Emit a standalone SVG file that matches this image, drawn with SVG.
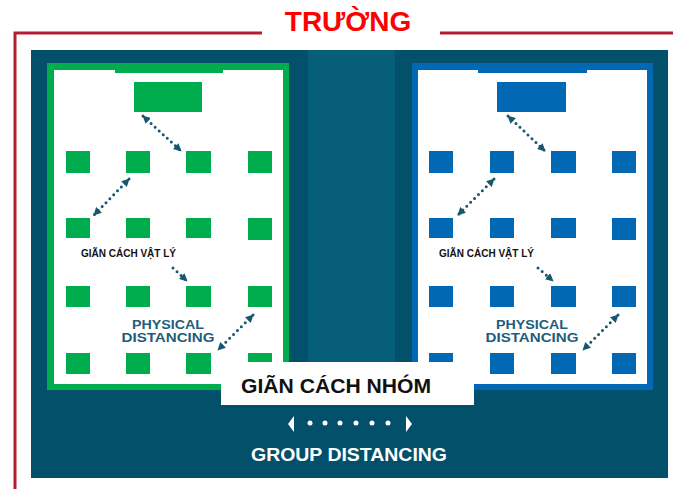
<svg xmlns="http://www.w3.org/2000/svg" width="673" height="489" viewBox="0 0 673 489">
<style>
.g{fill:#00ad4e}
.b{fill:#0168b3}
.lbl{font-family:"Liberation Sans",Arial,sans-serif;font-weight:bold;fill:#111}
.pd{font-family:"Liberation Sans",Arial,sans-serif;font-weight:bold;fill:#1f5d7c;font-size:12px;text-anchor:middle}
.arr{fill:none;stroke:#17566f;stroke-width:3;stroke-linecap:round;stroke-dasharray:0 5.5}
</style>
<defs>
<marker id="ah" viewBox="0 0 10 10" refX="9" refY="5" markerWidth="8" markerHeight="8" markerUnits="userSpaceOnUse" orient="auto-start-reverse">
<path d="M0,0 L10,5 L0,10 z" fill="#17566f"/>
</marker>
</defs>
<rect width="673" height="489" fill="#fff"/>
<g id="frame">
<path d="M262,33 H15 V489" fill="none" stroke="#b41c32" stroke-width="3"/>
<path d="M440,33 H673" fill="none" stroke="#b41c32" stroke-width="3"/>
<text x="348" y="31" text-anchor="middle" font-family="'Liberation Sans',Arial,sans-serif" font-weight="bold" font-size="28" fill="#ff0000">TRƯỜNG</text>
</g>
<g id="background">
<rect x="31" y="50" width="637" height="428" fill="#03506b"/>
<rect x="308" y="50" width="87" height="340" fill="#075e78"/>
</g>
<g id="panel-left">
<rect x="47" y="63" width="242" height="327" class="g"/>
<rect x="54" y="70" width="229" height="314" fill="#fff"/>
<rect x="115" y="70" width="108" height="3" class="g"/>
<rect x="134" y="82" width="68" height="30" class="g"/>
<g class="g">
<rect x="66" y="151" width="24" height="22"/><rect x="126" y="151" width="24" height="22"/><rect x="186" y="151" width="25" height="22"/><rect x="248" y="151" width="24" height="22"/>
<rect x="66" y="218" width="24" height="20"/><rect x="126" y="218" width="24" height="20"/><rect x="186" y="218" width="25" height="20"/><rect x="248" y="218" width="24" height="22"/>
<rect x="66" y="286" width="24" height="21"/><rect x="126" y="286" width="24" height="21"/><rect x="186" y="286" width="25" height="21"/><rect x="248" y="286" width="24" height="21"/>
<rect x="66" y="353" width="24" height="21"/><rect x="126" y="353" width="24" height="21"/><rect x="186" y="353" width="25" height="21"/><rect x="248" y="353" width="24" height="21"/>
</g>
<text x="81" y="257" class="lbl" font-size="10">GIÃN CÁCH VẬT LÝ</text>
<text x="168" y="328.5" class="pd" textLength="72" lengthAdjust="spacingAndGlyphs">PHYSICAL</text>
<text x="168" y="342" class="pd" textLength="93" lengthAdjust="spacingAndGlyphs">DISTANCING</text>
</g>
<g id="panel-right">
<rect x="412" y="63" width="241" height="327" class="b"/>
<rect x="418" y="70" width="229" height="314" fill="#fff"/>
<rect x="478" y="70" width="109" height="3" class="b"/>
<rect x="497" y="82" width="69" height="30" class="b"/>
<g class="b">
<rect x="429" y="151" width="24" height="22"/><rect x="490" y="151" width="24" height="22"/><rect x="551" y="151" width="25" height="22"/><rect x="612" y="151" width="24" height="22"/>
<rect x="429" y="218" width="24" height="20"/><rect x="490" y="218" width="24" height="20"/><rect x="551" y="218" width="25" height="20"/><rect x="612" y="218" width="24" height="22"/>
<rect x="429" y="286" width="24" height="21"/><rect x="490" y="286" width="24" height="21"/><rect x="551" y="286" width="25" height="21"/><rect x="612" y="286" width="24" height="21"/>
<rect x="429" y="353" width="24" height="21"/><rect x="490" y="353" width="24" height="21"/><rect x="551" y="353" width="25" height="21"/><rect x="612" y="353" width="24" height="21"/>
</g>
<text x="439" y="257" class="lbl" font-size="10">GIÃN CÁCH VẬT LÝ</text>
<text x="532" y="328.5" class="pd" textLength="72" lengthAdjust="spacingAndGlyphs">PHYSICAL</text>
<text x="532" y="342" class="pd" textLength="93" lengthAdjust="spacingAndGlyphs">DISTANCING</text>
</g>
<g id="connectors">
<path class="arr" d="M143,116 L181,151" marker-start="url(#ah)" marker-end="url(#ah)"/>
<path class="arr" d="M129,179 L94,215" marker-start="url(#ah)" marker-end="url(#ah)"/>
<path class="arr" d="M173,268 L187,281" marker-end="url(#ah)"/>
<path class="arr" d="M253,315 L218,350" marker-start="url(#ah)" marker-end="url(#ah)"/>
<path class="arr" d="M508,116 L545,151" marker-start="url(#ah)" marker-end="url(#ah)"/>
<path class="arr" d="M494,179 L458,215" marker-start="url(#ah)" marker-end="url(#ah)"/>
<path class="arr" d="M538,268 L553,281" marker-end="url(#ah)"/>
<path class="arr" d="M618,315 L583,350" marker-start="url(#ah)" marker-end="url(#ah)"/>
</g>
<g id="group-label">
<rect x="221" y="362" width="253" height="43" fill="#fff"/>
<text x="241" y="393" class="lbl" font-size="20" textLength="190" lengthAdjust="spacingAndGlyphs">GIÃN CÁCH NHÓM</text>
</g>
<g id="group-arrow" fill="#fff">
<path d="M288,424 L294,416 L294,432 z"/>
<path d="M412,424 L406,416 L406,432 z"/>
<circle cx="310" cy="423" r="2.5"/><circle cx="325" cy="423" r="2.5"/><circle cx="340" cy="423" r="2.5"/><circle cx="356" cy="423" r="2.5"/><circle cx="372" cy="423" r="2.5"/><circle cx="388" cy="423" r="2.5"/>
<text x="349" y="461" text-anchor="middle" font-family="'Liberation Sans',Arial,sans-serif" font-weight="bold" font-size="18" textLength="196" lengthAdjust="spacingAndGlyphs">GROUP DISTANCING</text>
</g>
</svg>
